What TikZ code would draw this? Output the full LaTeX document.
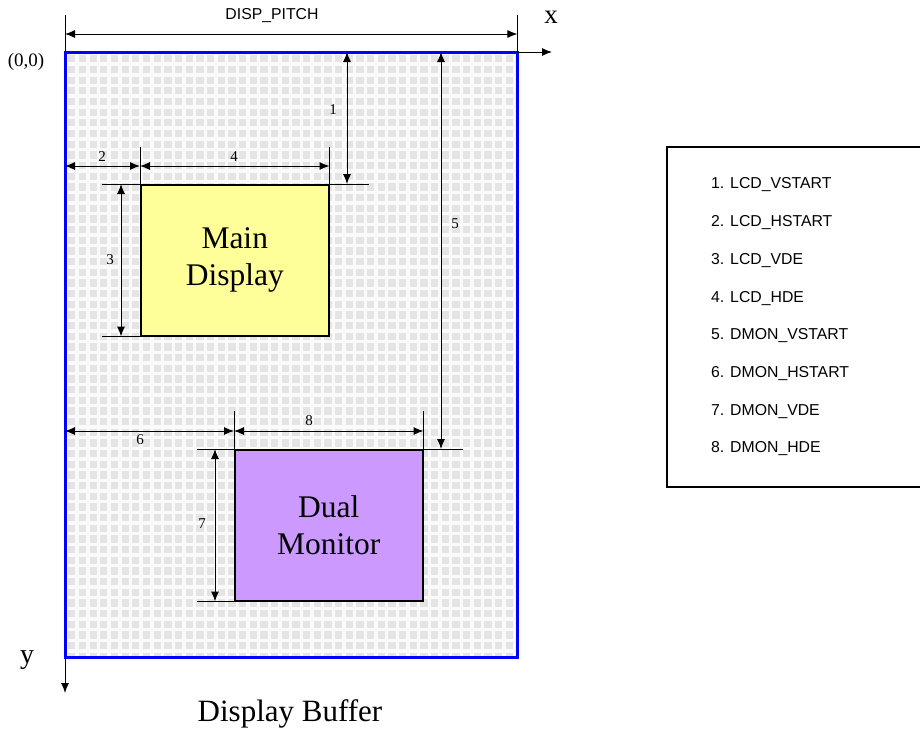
\documentclass[tikz,border=0pt]{standalone}
\usepackage{fontspec}
\setmainfont{Liberation Serif}
\newfontfamily\arialfont{Liberation Sans}
\usetikzlibrary{arrows.meta}
\definecolor{yellowfill}{HTML}{FFFF99}
\definecolor{purplefill}{HTML}{CC99FF}
\definecolor{bufblue}{HTML}{0000FF}
\definecolor{gridgray}{HTML}{E4E4E4}
\definecolor{gapwhite}{HTML}{FAFAFA}
\tikzset{
  dim/.style={line width=1pt, {Latex[length=10pt,width=8pt]}-{Latex[length=10pt,width=8pt]}},
  axis/.style={line width=1pt, -{Latex[length=10pt,width=8pt]}},
  ext/.style={line width=1pt},
  area/.style={draw=black, line width=1.5pt, minimum width=188pt, minimum height=151pt, anchor=north west, align=center, inner sep=0pt, font=\fontsize{31.5}{37}\selectfont},
  num/.style={font=\fontsize{15}{17}\selectfont, inner sep=0pt},
  legend/.style={font=\arialfont\fontsize{15.8}{18}\selectfont, anchor=west, inner sep=0pt},
  big/.style={inner sep=0pt}
}
\begin{document}
\begin{tikzpicture}[x=1pt,y=-1pt]
\useasboundingbox (0,0) rectangle (920,732);
% buffer node
\node[minimum width=452pt, minimum height=605pt, anchor=north west, inner sep=0pt] (buf) at (65,52) {};
\begin{scope}
  \clip (buf.north west) rectangle (buf.south east);
  \fill[gridgray] (buf.north west) rectangle (buf.south east);
  \foreach \i in {0,...,43} {
    \draw[gapwhite, line width=3.4pt] (66.5+10.67*\i,52) -- ++(0,605);
  }
  \foreach \j in {0,...,57} {
    \draw[gapwhite, line width=3.4pt] (65,53.5+10.67*\j) -- ++(452,0);
  }
\end{scope}
\draw[bufblue, line width=3pt] (buf.north west) rectangle (buf.south east);

% areas
\node[area, fill=yellowfill] (main) at (140,184) {Main\\Display};
\node[area, fill=purplefill] (dual) at (234,449) {Dual\\Monitor};

% coordinates for dimension lines
\coordinate (ptop) at (0,15);
\coordinate (py) at (0,34);
\coordinate (a1) at (347,0);
\coordinate (y24) at (0,166);
\coordinate (e24) at (0,147);
\coordinate (a3) at (121,0);
\coordinate (e3) at (102,0);
\coordinate (a5) at (441,0);
\coordinate (y68) at (0,431);
\coordinate (e68) at (0,411);
\coordinate (a7) at (215,0);
\coordinate (e7) at (197,0);
\coordinate (xend) at (552,52);
\coordinate (yend) at (65,693);

% DISP_PITCH
\draw[ext] (buf.north west) -- (buf.north west |- ptop);
\draw[ext] (buf.north east) -- (buf.north east |- ptop);
\draw[dim] (buf.north west |- py) -- (buf.north east |- py);
\node[legend, anchor=center] (pitch) at (272,16) {DISP\_PITCH};

% axes
\draw[axis] (buf.north east) -- (xend);
\draw[axis] (buf.south west) -- (yend);
\node[big, font=\fontsize{27}{30}\selectfont] (xl) at (551,17) {x};
\node[big, font=\fontsize{28}{30}\selectfont] (yl) at (27,660) {y};
\node[big, font=\fontsize{19}{22}\selectfont] (orig) at (26,62) {(0,0)};

% 1
\draw[ext] (main.north east) -- ++(39,0);
\draw[dim] (buf.north -| a1) -- (main.north -| a1);
\node[num] (n1) at (333,110) {1};
% 2 and 4
\draw[ext] (main.north west) -- (main.north west |- e24);
\draw[ext] (main.north east) -- (main.north east |- e24);
\draw[dim] (buf.west |- y24) -- (main.north west |- y24);
\draw[dim] (main.north west |- y24) -- (main.north east |- y24);
\node[num] (n2) at (102,157) {2};
\node[num] (n4) at (234,157) {4};
% 3
\draw[ext] (main.north west) -- (main.north west -| e3);
\draw[ext] (main.south west) -- (main.south west -| e3);
\draw[dim] (main.north west -| a3) -- (main.south west -| a3);
\node[num] (n3) at (110,260) {3};
% 5
\draw[ext] (dual.north east) -- ++(39,0);
\draw[dim] (buf.north -| a5) -- (dual.north -| a5);
\node[num] (n5) at (455,224) {5};
% 6 and 8
\draw[ext] (dual.north west) -- (dual.north west |- e68);
\draw[ext] (dual.north east) -- (dual.north east |- e68);
\draw[dim] (buf.west |- y68) -- (dual.north west |- y68);
\draw[dim] (dual.north west |- y68) -- (dual.north east |- y68);
\node[num] (n6) at (140,440) {6};
\node[num] (n8) at (309,421) {8};
% 7
\draw[ext] (dual.north west) -- (dual.north west -| e7);
\draw[ext] (dual.south west) -- (dual.south west -| e7);
\draw[dim] (dual.north west -| a7) -- (dual.south west -| a7);
\node[num] (n7) at (202,524) {7};

% caption
\node[big, font=\fontsize{31}{34}\selectfont] (cap) at (290,714) {Display Buffer};

% legend
\draw[line width=1.5pt] (930,147) -- (667,147) -- (667,487) -- (930,487);
\node[legend] (l1) at (711,185) {1. LCD\_VSTART};
\node[legend] (l2) at (711,222.7) {2. LCD\_HSTART};
\node[legend] (l3) at (711,260.4) {3. LCD\_VDE};
\node[legend] (l4) at (711,298.1) {4. LCD\_HDE};
\node[legend] (l5) at (711,335.8) {5. DMON\_VSTART};
\node[legend] (l6) at (711,373.5) {6. DMON\_HSTART};
\node[legend] (l7) at (711,411.2) {7. DMON\_VDE};
\node[legend] (l8) at (711,448.9) {8. DMON\_HDE};
\end{tikzpicture}
\end{document}
